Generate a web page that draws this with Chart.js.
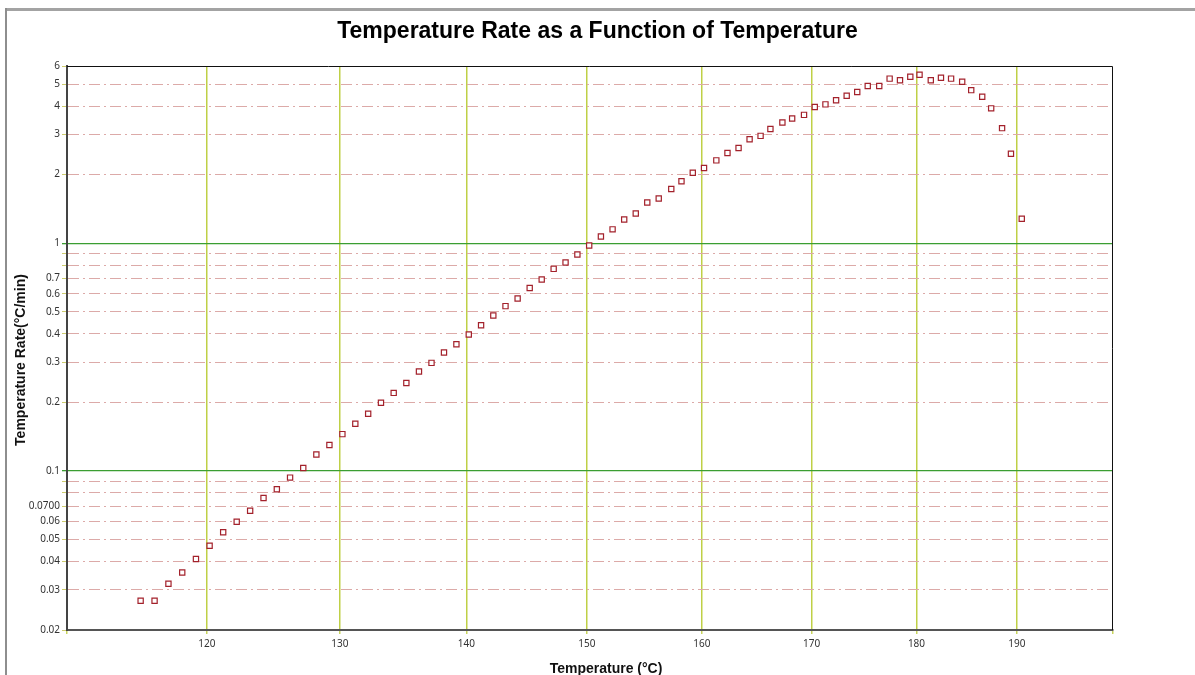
<!DOCTYPE html>
<html>
<head>
<meta charset="utf-8">
<title>Temperature Rate as a Function of Temperature</title>
<script src="https://cdn.jsdelivr.net/npm/chart.js@4/dist/chart.umd.min.js"></script>
<style>
  html, body { margin: 0; padding: 0; background: #fff; }
  #wrap { width: 1195px; height: 675px; }
</style>
</head>
<body>
<div id="wrap"><canvas id="myChart" width="1195" height="675"></canvas></div>
<script>
// temperature (°C) of each sample
const temps = [
  115.2, 116.2, 117.2, 118.2, 119.2, 120.2, 121.2, 122.2, 123.2, 124.2,
  125.2, 126.2, 127.2, 128.2, 129.2, 130.2, 131.2, 132.2, 133.2, 134.2,
  135.2, 136.2, 137.2, 138.2, 139.2, 140.2, 141.2, 142.2, 143.2, 144.2,
  145.2, 146.2, 147.2, 148.2, 149.2, 150.2, 151.2, 152.2, 153.2, 154.2,
  155.2, 156.2, 157.3, 158.2, 159.2, 160.2, 161.3, 162.3, 163.3, 164.3,
  165.3, 166.2, 167.3, 168.2, 169.3, 170.3, 171.3, 172.3, 173.3, 174.3,
  175.3, 176.4, 177.4, 178.4, 179.4, 180.3, 181.4, 182.4, 183.4, 184.5,
  185.4, 186.5, 187.4, 188.5, 189.4, 190.5
];

// temperature rate (°C/min)
const rates = [
  0.0269, 0.0269, 0.0319, 0.0358, 0.0410, 0.0469, 0.0537, 0.0598, 0.0668, 0.0760,
  0.0830, 0.0934, 0.103, 0.118, 0.130, 0.145, 0.161, 0.178, 0.199, 0.220,
  0.243, 0.273, 0.298, 0.331, 0.360, 0.397, 0.436, 0.481, 0.529, 0.571,
  0.636, 0.693, 0.771, 0.823, 0.892, 0.977, 1.07, 1.15, 1.27, 1.35,
  1.51, 1.57, 1.73, 1.87, 2.04, 2.14, 2.31, 2.49, 2.62, 2.86,
  2.96, 3.17, 3.39, 3.53, 3.66, 3.96, 4.07, 4.24, 4.44, 4.61,
  4.90, 4.90, 5.28, 5.19, 5.38, 5.49, 5.19, 5.33, 5.28, 5.12,
  4.70, 4.40, 3.91, 3.20, 2.47, 1.28
];

const xTickTemps = [110, 120, 130, 140, 150, 160, 170, 180, 190, 200];
const yTickValues = [0.02, 0.03, 0.04, 0.05, 0.06, 0.07, 0.08, 0.09, 0.1,
  0.2, 0.3, 0.4, 0.5, 0.6, 0.7, 0.8, 0.9, 1, 2, 3, 4, 5, 6];
const yTickLabels = ['0.02', '0.03', '0.04', '0.05', '0.06', '0.0700', '', '', '0.1',
  '0.2', '0.3', '0.4', '0.5', '0.6', '0.7', '', '', '1', '2', '3', '4', '5', '6'];

// the x axis is spaced like an Arrhenius plot (by 1/T in kelvin)
function toX(t) {
  return -1000 / (t + 273.15);
}
function fromX(v) {
  return -1000 / v - 273.15;
}

const dashDot = [11, 4, 2, 4];

const framePlugin = {
  id: 'frame',
  beforeDraw(chart) {
    const ctx = chart.ctx;
    ctx.save();
    ctx.fillStyle = '#fff';
    ctx.fillRect(0, 0, chart.width, chart.height);
    // window frame
    ctx.fillStyle = '#a3a3a3';
    ctx.fillRect(5, 8, chart.width - 5, 3);
    ctx.fillStyle = '#8e8e8e';
    ctx.fillRect(5, 8, 2, chart.height - 8);
    ctx.restore();
  },
  afterDraw(chart) {
    const ctx = chart.ctx;
    const a = chart.chartArea;
    ctx.save();
    ctx.strokeStyle = '#111';
    ctx.lineWidth = 1;
    ctx.beginPath();
    ctx.moveTo(a.left, a.top + 0.5);
    ctx.lineTo(a.right - 0.5, a.top + 0.5);
    ctx.lineTo(a.right - 0.5, a.bottom);
    ctx.stroke();

    // axis titles
    ctx.fillStyle = '#111';
    ctx.font = 'bold 14px "Liberation Sans", Arial, sans-serif';
    ctx.textAlign = 'center';
    ctx.textBaseline = 'middle';
    ctx.fillText('Temperature (°C)', 606, 669);
    ctx.translate(21, 360);
    ctx.rotate(-Math.PI / 2);
    ctx.fillText('Temperature Rate(°C/min)', 0, 0);
    ctx.restore();
  }
};

var ctx = document.getElementById('myChart').getContext('2d');
var chart = new Chart(ctx, {
  type: 'scatter',
  data: {
    datasets: [{
      label: 'Temperature Rate',
      data: temps.map((t, i) => ({ x: toX(t), y: rates[i] })),
      pointStyle: 'rect',
      pointRadius: 3.7,
      borderWidth: 1.2,
      borderColor: '#a3212b',
      backgroundColor: '#ffffff',
      showLine: false
    }]
  },
  options: {
    responsive: false,
    animation: false,
    layout: { padding: 0 },
    plugins: {
      legend: { display: false },
      tooltip: { enabled: false },
      title: {
        display: true,
        text: 'Temperature Rate as a Function of Temperature',
        color: '#000',
        font: { family: '"Liberation Sans", Arial, sans-serif', size: 23, weight: 'bold' },
        padding: { top: 18, bottom: 20.4 }
      }
    },
    scales: {
      x: {
        type: 'linear',
        min: toX(110),
        max: toX(200),
        afterBuildTicks: s => { s.ticks = xTickTemps.map(t => ({ value: toX(t) })); },
        afterFit: s => { s.height = 45; },
        grid: {
          color: c => {
            if (!c.tick) return 'rgba(0,0,0,0)';
            const t = Math.round(fromX(c.tick.value));
            return (t > 110 && t < 200) ? '#bfd046' : 'rgba(0,0,0,0)';
          },
          lineWidth: 1.5,
          tickColor: '#c8d45c',
          tickLength: 4,
          tickWidth: 1.5
        },
        border: { color: '#555', width: 2 },
        ticks: {
          autoSkip: false,
          maxRotation: 0,
          padding: 4,
          color: '#333',
          font: { family: '"Noto Sans", sans-serif', size: 10 },
          callback: v => {
            const t = Math.round(fromX(v));
            return (t === 110 || t === 200) ? '' : String(t);
          }
        }
      },
      y: {
        type: 'logarithmic',
        min: 0.02,
        max: 6,
        afterBuildTicks: s => { s.ticks = yTickValues.map(v => ({ value: v })); },
        afterFit: s => { s.width = 67; },
        grid: {
          color: c => {
            if (!c.tick) return 'rgba(0,0,0,0)';
            const v = c.tick.value;
            if (v === 1 || v === 0.1) return '#3b9e32';
            if (v === 6 || v === 0.02) return 'rgba(0,0,0,0)';
            return '#dcaaa8';
          },
          lineWidth: c => (c.tick && (c.tick.value === 1 || c.tick.value === 0.1)) ? 1.3 : 1,
          tickColor: c => (c.tick && (c.tick.value === 1 || c.tick.value === 0.1)) ? '#3b9e32' : '#cdcc6e',
          tickLength: 5
        },
        border: {
          color: '#444',
          width: 2,
          dash: c => {
            if (!c.tick) return [];
            const v = c.tick.value;
            return (v === 1 || v === 0.1) ? [] : dashDot;
          }
        },
        ticks: {
          autoSkip: false,
          padding: 2,
          color: '#333',
          font: { family: '"Noto Sans", sans-serif', size: 10 },
          callback: (v, i) => yTickLabels[i]
        }
      },
      // empty right-hand axis that only reserves the right margin
      yRight: {
        type: 'linear',
        position: 'right',
        display: true,
        afterFit: s => { s.width = 82; },
        grid: { display: false, drawTicks: false },
        border: { display: false },
        ticks: { display: false }
      }
    }
  },
  plugins: [framePlugin]
});
</script>
</body>
</html>
